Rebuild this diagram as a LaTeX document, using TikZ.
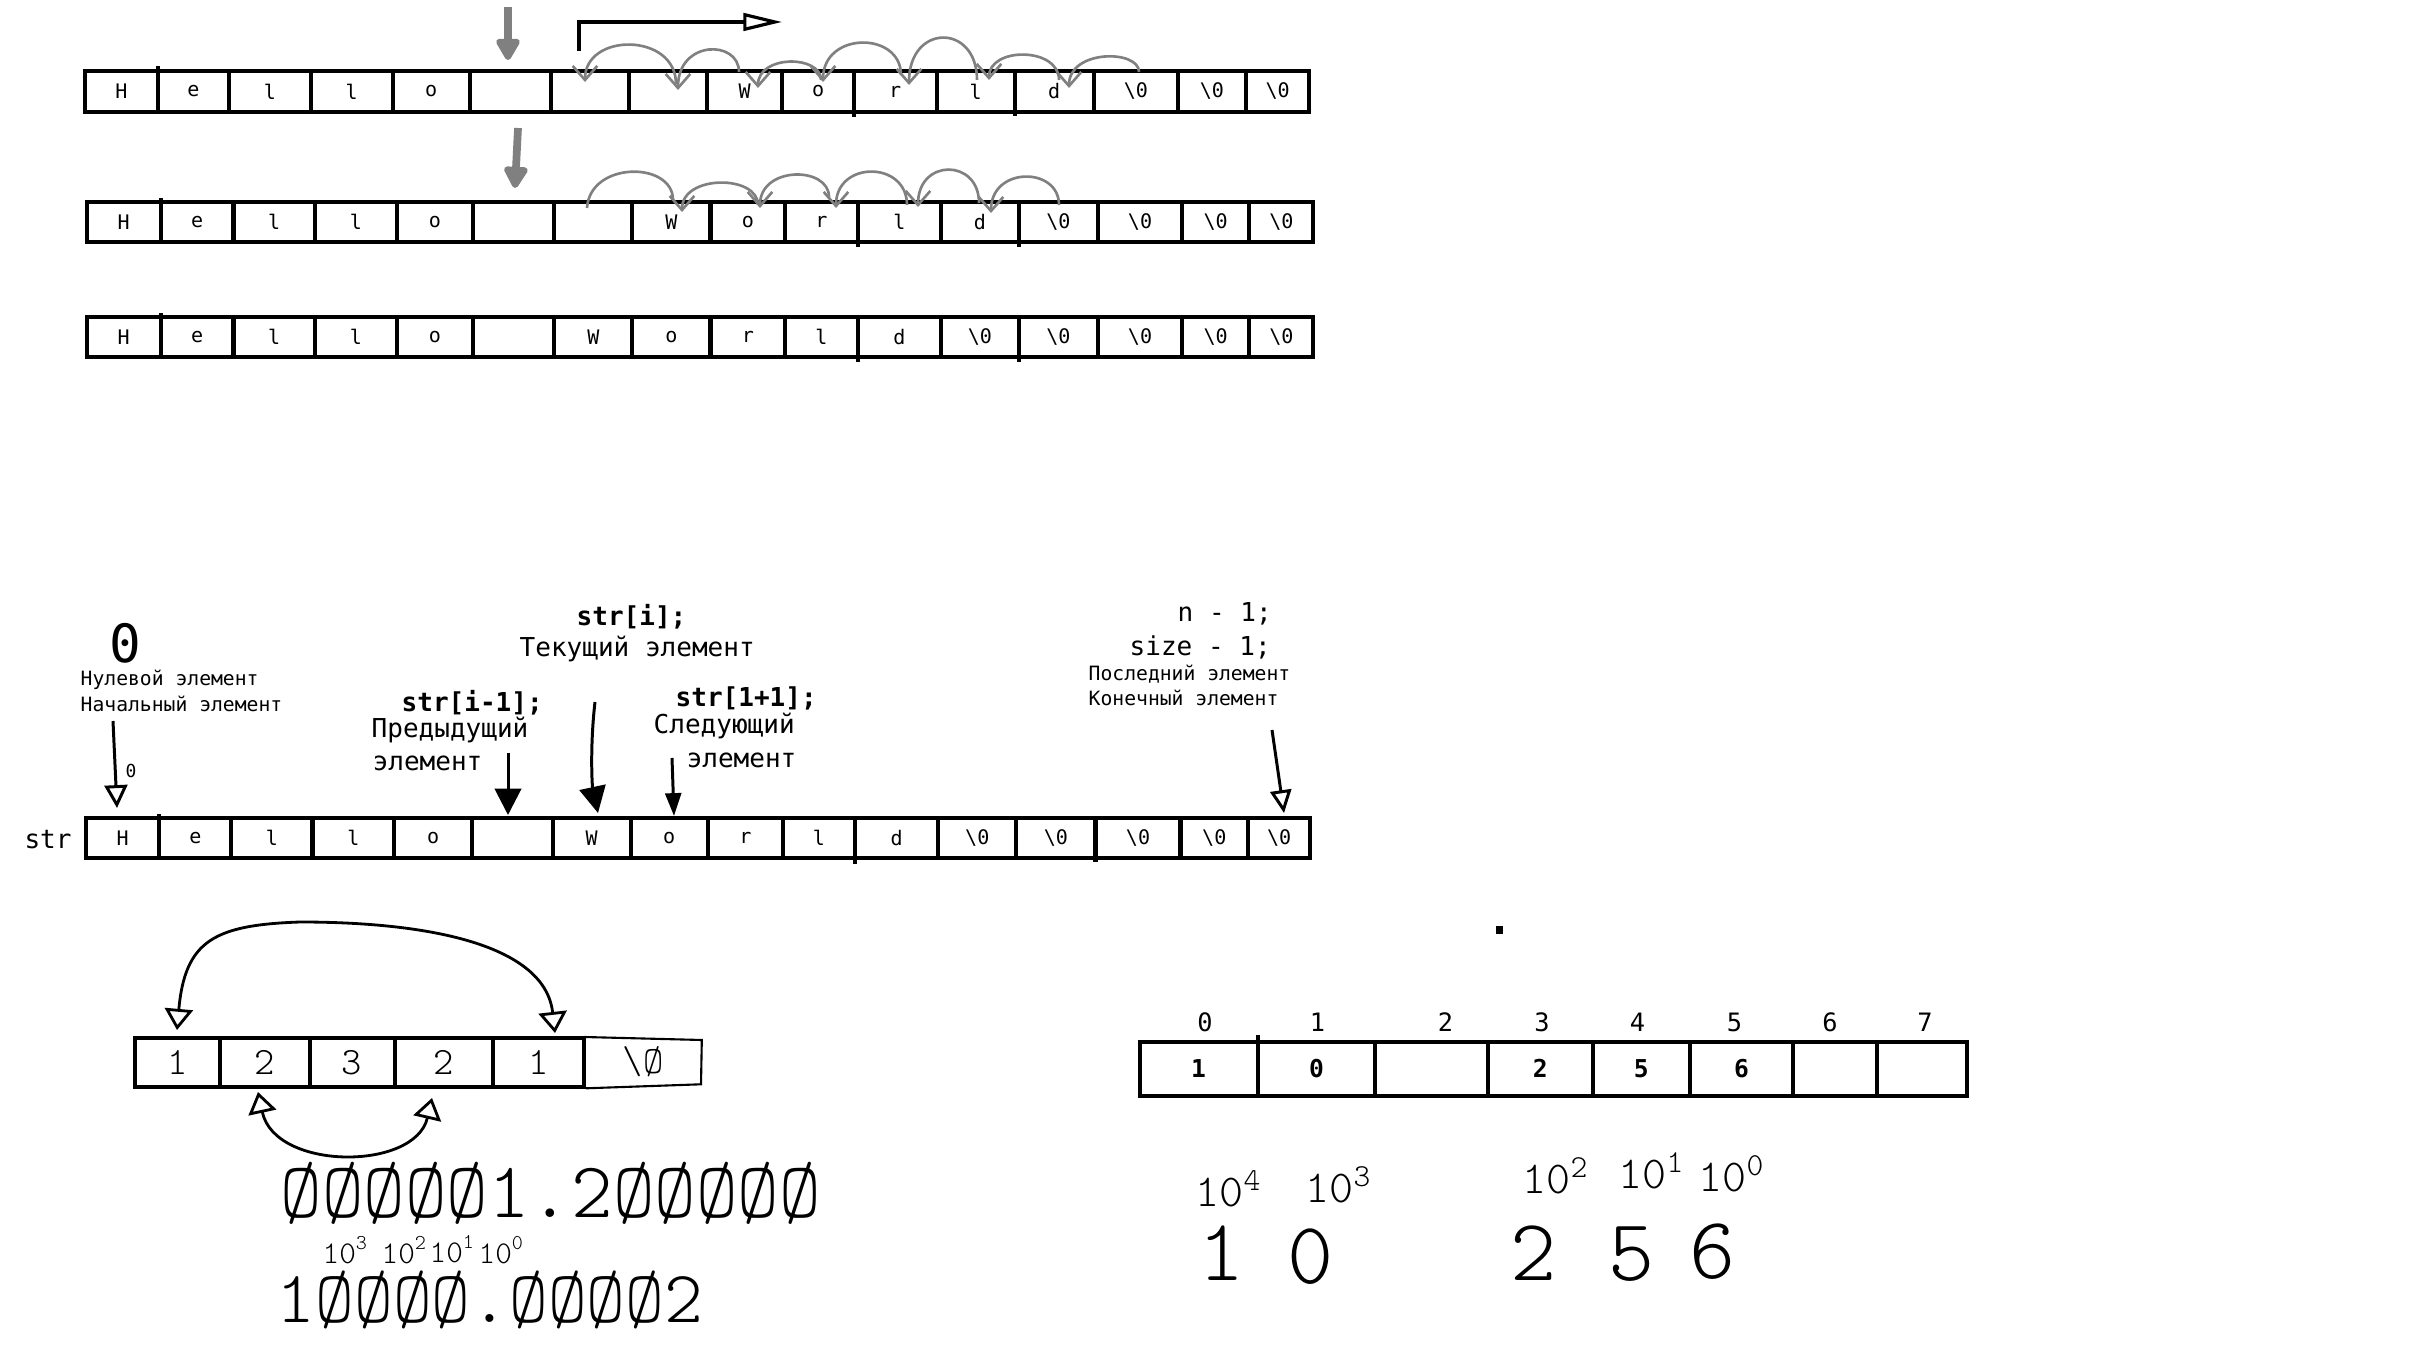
\documentclass[tikz,border=0pt]{standalone}
\usepackage{fontspec}
\setmonofont{DejaVu Sans Mono}
\newfontfamily\handfont{lmmonolt10-regular.otf}
\usepackage{tikz}
\usetikzlibrary{arrows.meta,calc}
\definecolor{pengray}{RGB}{128,128,128}
\newcommand\zt{\textbackslash 0}

\begin{document}
\begin{tikzpicture}[x=0.01cm,y=-0.01cm,
  cell/.style={draw,line width=1.15pt,inner sep=0pt,font=\ttfamily\fontsize{5.7}{6}\selectfont},
  big/.style={inner sep=0pt,anchor=west,font=\ttfamily\fontsize{7.4}{8}\selectfont},
  code/.style={big,font=\ttfamily\bfseries\fontsize{7.4}{8}\selectfont},
  note/.style={inner sep=0pt,anchor=west,font=\ttfamily\fontsize{5.6}{6}\selectfont},
  hop/.style={pengray,line width=0.75pt,-{Straight Barb[length=4pt,width=7pt]}},
  push/.style={pengray,line width=2.2pt,-{Triangle[length=7pt,width=7.5pt,round]}},
  ptr/.style={line width=0.85pt},
  hand/.style={inner sep=0pt,font=\handfont\fontsize{#1}{#1}\selectfont}]
\useasboundingbox (0,0) rectangle (2416,1368);

\foreach \a/\b/\t [count=\i] in {85/157.6/H, 157.6/229/e, 229/310.6/l, 310.6/392.6/l, 392.6/469.8/o, 469.8/551.3/{}, 551.3/629.4/{}, 629.4/707/{}, 707/782.3/W, 782.3/853.8/o, 853.8/936.7/r, 936.7/1014.6/l, 1014.6/1093.7/d, 1093.7/1177.9/\zt, 1177.9/1246/\zt, 1246/1309.2/\zt}
  \node[cell,minimum width={(\b-\a)*0.01cm},minimum height=0.41cm] (a\i) at ({(\a+\b)/2},91.5) {\t};
\foreach \a/\b/\t [count=\i] in {86.9/160.6/H, 160.6/233.5/e, 233.5/315/l, 315/397/l, 397/472.8/o, 472.8/554.4/{}, 554.4/632.4/{}, 632.4/710.5/W, 710.5/785.2/o, 785.2/857.6/r, 857.6/941/l, 941/1018.8/d, 1018.8/1098/\zt, 1098/1182/\zt, 1182/1249.4/\zt, 1249.4/1313.4/\zt}
  \node[cell,minimum width={(\b-\a)*0.01cm},minimum height=0.40cm] (b\i) at ({(\a+\b)/2},222) {\t};
\foreach \a/\b/\t [count=\i] in {86.9/160.6/H, 160.6/233.5/e, 233.5/315/l, 315/397/l, 397/472.8/o, 472.8/554.4/{}, 554.4/632.4/W, 632.4/710.5/o, 710.5/785.2/r, 785.2/857.6/l, 857.6/941/d, 941/1018.8/\zt, 1018.8/1098/\zt, 1098/1182/\zt, 1182/1249.4/\zt, 1249.4/1313.4/\zt}
  \node[cell,minimum width={(\b-\a)*0.01cm},minimum height=0.40cm] (c\i) at ({(\a+\b)/2},337) {\t};
\foreach \a/\b/\t [count=\i] in {85.7/159.4/H, 159.4/231.3/e, 231.3/312.5/l, 312.5/394.2/l, 394.2/471.9/o, 471.9/552.7/{}, 552.7/630.7/W, 630.7/707.6/o, 707.6/783.1/r, 783.1/854.8/l, 854.8/938.4/d, 938.4/1016.2/\zt, 1016.2/1095.5/\zt, 1095.5/1180.5/\zt, 1180.5/1248/\zt, 1248/1310.2/\zt}
  \node[cell,minimum width={(\b-\a)*0.01cm},minimum height=0.40cm] (s\i) at ({(\a+\b)/2},838) {\t};
\foreach \a/\b/\t [count=\i] in {1139.6/1257.5/1, 1257.5/1375.3/0, 1375.3/1487.6/{}, 1487.6/1593/2, 1593/1689.6/5, 1689.6/1793.4/6, 1793.4/1876.5/{}, 1876.5/1967.4/{}}
  \node[cell,font=\ttfamily\bfseries\fontsize{7}{8}\selectfont,minimum width={(\b-\a)*0.01cm},minimum height=0.54cm] (d\i) at ({(\a+\b)/2},1068.7) {\t};
\foreach \a/\b/\t [count=\i] in {134.8/219.8/1, 219.8/309.6/2, 309.6/394.6/3, 394.6/492.6/2, 492.6/584.4/1}
  \node[cell,font=\handfont\fontsize{11}{12}\selectfont,minimum width={(\b-\a)*0.01cm},minimum height=0.484cm] (p\i) at ({(\a+\b)/2},1062.5) {\t};
\draw[line width=0.6pt] (584.4,1037) -- (701.8,1040) -- (701,1084.3) -- (586,1088.3);
\node[hand=11] (p6) at (643,1062) {\textbackslash Ø};

\foreach \x/\ya/\yb in {157.6/71/66, 853.8/112/117, 1014.6/112/116, 160.6/202/198, 857.6/242/247, 1018.8/242/247, 160.6/317/313, 857.6/357/362, 1018.8/357/362, 159.4/818/814, 854.8/858/864, 1095.5/858/862, 1257.5/1041.7/1035}
  \draw[line width=1.15pt] (\x,\ya) -- (\x,\yb);

\coordinate (g1s) at (508,7);
\coordinate (g1e) at (508,60);
\coordinate (g2s) at (518,128);
\coordinate (g2e) at (515,188);
\draw[push] (g1s) -- (g1e);
\draw[push] (g2s) -- (g2e);
\coordinate (brS) at (579,51);
\coordinate (brE) at (782,22);
\draw[line width=0.9pt,-{Triangle[open,length=11pt,width=5pt]}] (brS) |- (brE);

\foreach \tx/\ty/\py/\hx/\hy in {676/84/45/585/82, 739/72/50/678/90, 821/80/62/758/88, 901/75/43/823/82, 977/80/38/909/85, 1059/80/55/989/80, 1139/72/57/1069/88, 758/205/183/682/212, 829/197/175/760/208, 907/205/172/836/208, 979/203/170/918/207, 1059/205/177/991/213}
{
  \pgfmathsetmacro\cy{(8*\py-\ty-\hy)/6}
  \draw[hop] (\tx,\ty) .. controls (\tx,\cy) and (\hx,\cy) .. (\hx,\hy);
}
\draw[pengray,line width=0.75pt] (587,208) .. controls (590,161) and (673,161) .. (673,200);

\node[inner sep=0pt,font=\ttfamily\fontsize{15}{16}\selectfont] (zeroLbl) at (125,643) {0};
\node[note] (nullLbl) at (80,680) {Нулевой элемент};
\node[note] (startLbl) at (80,704) {Начальный элемент};
\node[inner sep=0pt,font=\ttfamily\fontsize{5.1}{6}\selectfont] (zeroSmall) at (131,771) {0};
\node[code] (prevCode) at (401,703) {str[i-1];};
\node[big] (prevLbl) at (371,730) {Предыдущий};
\node[big] (prevLblB) at (372,763) {элемент};
\node[code] (curCode) at (576,617) {str[i];};
\node[big] (curLbl) at (519,649) {Текущий элемент};
\node[code] (nextCode) at (675,698) {str[1+1];};
\node[big] (nextLbl) at (653,726) {Следующий};
\node[big] (nextLblB) at (686,760) {элемент};
\node[big] (lastN) at (1177,614) {n - 1;};
\node[big] (lastSize) at (1129,647) {size - 1;};
\node[note] (lastLbl) at (1088,674) {Последний элемент};
\node[note] (lastLblB) at (1088,698) {Конечный элемент};
\node[big,anchor=center] (strLbl) at (48,840) {str};

\coordinate (hT) at (113,721);
\coordinate (hB) at (117,808);
\coordinate (pT) at (508,753);
\coordinate (pB) at (508,815);
\coordinate (cT) at (595,702);
\coordinate (cB) at (598,813);
\coordinate (nT) at (672,758);
\coordinate (nB) at (674,816);
\coordinate (lT) at (1272,730);
\coordinate (lB) at (1284,813);
\draw[ptr,-{Triangle[open,length=6.5pt,width=6.5pt]}] (hT) -- (hB);
\draw[ptr,-{Triangle[length=7.5pt,width=7.5pt]}] (pT) -- (pB);
\draw[ptr,-{Triangle[length=7.5pt,width=7.5pt]}] (cT) .. controls (590,745) and (592,785) .. (cB);
\draw[ptr,-{Triangle[length=6.5pt,width=4.5pt]}] (nT) -- (nB);
\draw[ptr,-{Triangle[open,length=6.5pt,width=6pt]}] (lT) -- (lB);

\coordinate (q1) at (177,1030);
\coordinate (q5) at (555,1033);
\coordinate (q2) at (258,1092);
\coordinate (q4) at (432,1098);
\draw[line width=0.8pt,{Triangle[open,length=6pt,width=8pt]}-{Triangle[open,length=6pt,width=8pt]}] (q1) .. controls (185,940) and (215,925) .. (300,922) .. controls (430,922) and (545,945) .. (q5);
\draw[line width=0.8pt,{Triangle[open,length=6pt,width=8pt]}-{Triangle[open,length=6pt,width=8pt]}] (q2) .. controls (275,1171) and (415,1171) .. (q4);

\node[hand=22.5,anchor=base west] (fracA) at (280,1217) {ØØØØØ1.2ØØØØØ};
\node[hand=21,anchor=base west] (fracB) at (276,1322) {1ØØØØ.ØØØØ2};
\node[hand=9,anchor=base west] (wA3) at (322,1263) {10\textsuperscript{3}};
\node[hand=9,anchor=base west] (wA2) at (381,1263) {10\textsuperscript{2}};
\node[hand=9,anchor=base west] (wA1) at (429,1262) {10\textsuperscript{1}};
\node[hand=9,anchor=base west] (wA0) at (478,1263) {10\textsuperscript{0}};

\foreach \x [count=\i from 0] in {1205,1317.5,1445.5,1542,1637.4,1734.5,1830,1925}
  \node[inner sep=0pt,font=\ttfamily\fontsize{7.2}{8}\selectfont] (n\i) at (\x,1022) {\i};
\fill (1496,926) rectangle (1503,934);

\node[hand=13,anchor=base west] (w4) at (1195,1206) {10\textsuperscript{4}};
\node[hand=13,anchor=base west] (w3) at (1305,1202) {10\textsuperscript{3}};
\node[hand=13,anchor=base west] (w2) at (1522,1193) {10\textsuperscript{2}};
\node[hand=13,anchor=base west] (w1) at (1618,1188) {10\textsuperscript{1}};
\node[hand=13,anchor=base west] (w0) at (1698,1191) {10\textsuperscript{0}};
\node[hand=25,anchor=base] (v1) at (1222,1280) {1};
\node[hand=25,anchor=base] (v0) at (1311,1283) {0};
\node[hand=25,anchor=base] (v2) at (1534,1280) {2};
\node[hand=25,anchor=base] (v5) at (1632,1280) {5};
\node[hand=25,anchor=base] (v6) at (1713,1278) {6};
\end{tikzpicture}
\end{document}
